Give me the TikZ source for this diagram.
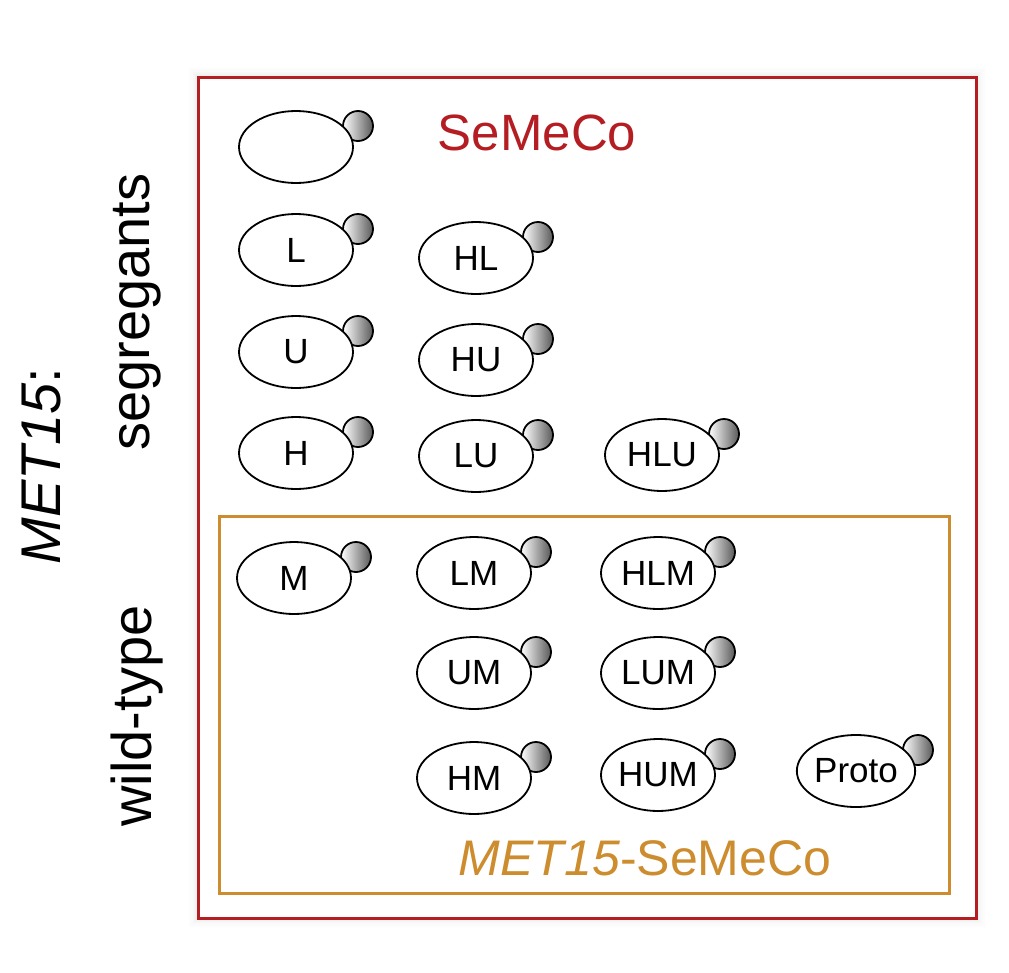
\documentclass[tikz,border=0pt]{standalone}
\usepackage{fontspec}
\setmainfont{Liberation Sans}
\definecolor{sred}{RGB}{180,30,35}
\definecolor{sorange}{RGB}{205,140,45}
\usetikzlibrary{shapes.geometric,calc}
\tikzset{
  cellbody/.style={draw=black,line width=1.8pt,fill=white,ellipse,minimum width=114pt,minimum height=72pt,inner sep=0pt,font=\fontsize{35}{35}\selectfont},
  bud/.style={draw=black,line width=1.8pt,left color=white,right color=black!65,circle,minimum size=30pt,inner sep=0pt}
}
\newcommand{\cellat}[3]{%
  \node[bud] (#1b) at ($(#2)+(62pt,21pt)$) {};
  \node[cellbody] (#1) at (#2) {#3};}
\begin{document}
\begin{tikzpicture}[x=1pt,y=-1pt]
\useasboundingbox (0,0) rectangle (1009,972);
\foreach \i/\c in {1/7,2/6,3/5,4/4,5/3,6/2,7/2,8/1}{\draw[black!\c,line width=2pt] (198-\i,77-\i) rectangle (976+\i,918+\i);}
\draw[sred,line width=3pt,fill=white] (198,77) rectangle (976,918);
\draw[sorange,line width=3pt] (219,516) rectangle (949,893);
\node[text=sred,font=\fontsize{51}{51}\selectfont] (t1) at (537,133) {SeMeCo};
\node[text=sorange,font=\fontsize{50}{50}\selectfont] (t2) at (645,858) {\textit{MET15}-SeMeCo};
\node[rotate=90,font=\fontsize{56}{56}\selectfont] (seg) at (137,312) {segregants};
\node[rotate=90,font=\fontsize{56}{56}\selectfont] (wt) at (137,716) {wild-type};
\node[rotate=90,font=\fontsize{56}{56}\selectfont] (met) at (42,466) {\textit{MET15}:};
\cellat{c0}{296,147}{}
\cellat{L}{296,250}{L}
\cellat{HL}{476,258}{HL}
\cellat{U}{296,352}{U}
\cellat{HU}{476,360}{HU}
\cellat{H}{296,453}{H}
\cellat{LU}{476,456}{LU}
\cellat{HLU}{662,455}{HLU}
\cellat{M}{294,578}{M}
\cellat{LM}{474,573}{LM}
\cellat{HLM}{658,573}{HLM}
\cellat{UM}{474,673}{UM}
\cellat{LUM}{658,673}{LUM}
\cellat{HM}{474,778}{HM}
\cellat{HUM}{658,775}{HUM}
\cellat{Proto}{856,771}{Proto}
\end{tikzpicture}
\end{document}
